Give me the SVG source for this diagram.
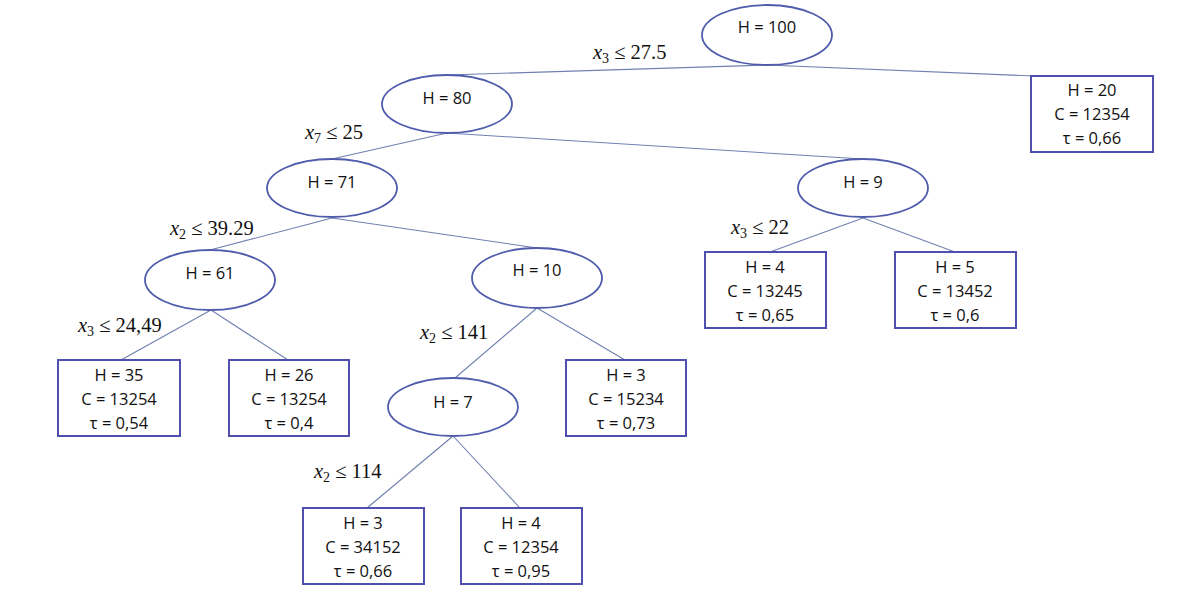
<svg xmlns="http://www.w3.org/2000/svg" width="1181" height="608" viewBox="0 0 1181 608">
<style>
.el{fill:#fff;stroke:#4f5bab;stroke-width:1.8}
.bx{fill:#fff;stroke:#4f4fb0;stroke-width:2}
.t{font-family:"Open Sans","Liberation Sans",sans-serif;font-size:16.5px;fill:#111;text-anchor:middle}
.m{font-family:"Liberation Serif","DejaVu Serif",serif;font-size:20.5px;fill:#111}
.m .v{font-style:italic}
.m .s{font-size:14px}
.c line{stroke:#7080b0;stroke-width:1.1}
</style>
<rect width="1181" height="608" fill="#fff"/>
<g class="c" id="connectors">
<line x1="767" y1="65" x2="447" y2="75"/>
<line x1="767" y1="65" x2="1033" y2="76"/>
<line x1="447" y1="133" x2="332" y2="159"/>
<line x1="447" y1="133" x2="863" y2="159"/>
<line x1="332" y1="218" x2="210" y2="250"/>
<line x1="332" y1="218" x2="537" y2="248"/>
<line x1="211" y1="310" x2="121" y2="360"/>
<line x1="211" y1="310" x2="288" y2="360"/>
<line x1="537" y1="308" x2="455" y2="378"/>
<line x1="537" y1="308" x2="625" y2="360"/>
<line x1="453" y1="436" x2="367" y2="508"/>
<line x1="453" y1="436" x2="520" y2="508"/>
<line x1="863" y1="218" x2="770" y2="252"/>
<line x1="863" y1="218" x2="955" y2="252"/>
</g>
<g id="labels">
<text class="m" x="593" y="59"><tspan class="v">x</tspan><tspan class="s" dy="4">3</tspan><tspan dy="-4"> ≤ 27.5</tspan></text>
<text class="m" x="305" y="139"><tspan class="v">x</tspan><tspan class="s" dy="4">7</tspan><tspan dy="-4"> ≤ 25</tspan></text>
<text class="m" x="170" y="235"><tspan class="v">x</tspan><tspan class="s" dy="4">2</tspan><tspan dy="-4"> ≤ 39.29</tspan></text>
<text class="m" x="78" y="332"><tspan class="v">x</tspan><tspan class="s" dy="4">3</tspan><tspan dy="-4"> ≤ 24,49</tspan></text>
<text class="m" x="420" y="339"><tspan class="v">x</tspan><tspan class="s" dy="4">2</tspan><tspan dy="-4"> ≤ 141</tspan></text>
<text class="m" x="314" y="478"><tspan class="v">x</tspan><tspan class="s" dy="4">2</tspan><tspan dy="-4"> ≤ 114</tspan></text>
<text class="m" x="731" y="234"><tspan class="v">x</tspan><tspan class="s" dy="4">3</tspan><tspan dy="-4"> ≤ 22</tspan></text>
</g>
<g id="n100"><ellipse class="el" cx="767" cy="35" rx="65" ry="30"/><text class="t" x="767" y="33">H = 100</text></g>
<g id="n80"><ellipse class="el" cx="447" cy="104" rx="65" ry="29"/><text class="t" x="447" y="104">H = 80</text></g>
<g id="n71"><ellipse class="el" cx="332" cy="188" rx="65" ry="29"/><text class="t" x="332" y="188">H = 71</text></g>
<g id="n9"><ellipse class="el" cx="863" cy="188" rx="65" ry="29"/><text class="t" x="863" y="188">H = 9</text></g>
<g id="n61"><ellipse class="el" cx="210" cy="280" rx="65" ry="30"/><text class="t" x="210" y="279">H = 61</text></g>
<g id="n10"><ellipse class="el" cx="537" cy="278" rx="65" ry="30"/><text class="t" x="537" y="276">H = 10</text></g>
<g id="n7"><ellipse class="el" cx="453" cy="407" rx="65" ry="29"/><text class="t" x="453" y="408">H = 7</text></g>
<g id="l20"><rect class="bx" x="1031" y="76" width="122" height="76"/><text class="t" x="1092" y="96">H = 20</text><text class="t" x="1092" y="120">C = 12354</text><text class="t" x="1092" y="144">τ = 0,66</text></g>
<g id="l4a"><rect class="bx" x="705" y="252" width="121" height="76"/><text class="t" x="765" y="273">H = 4</text><text class="t" x="765" y="297">C = 13245</text><text class="t" x="765" y="321">τ = 0,65</text></g>
<g id="l5"><rect class="bx" x="895" y="252" width="121" height="76"/><text class="t" x="955" y="273">H = 5</text><text class="t" x="955" y="297">C = 13452</text><text class="t" x="955" y="321">τ = 0,6</text></g>
<g id="l35"><rect class="bx" x="58" y="360" width="122" height="76"/><text class="t" x="119" y="381">H = 35</text><text class="t" x="119" y="405">C = 13254</text><text class="t" x="119" y="429">τ = 0,54</text></g>
<g id="l26"><rect class="bx" x="229" y="360" width="120" height="76"/><text class="t" x="289" y="381">H = 26</text><text class="t" x="289" y="405">C = 13254</text><text class="t" x="289" y="429">τ = 0,4</text></g>
<g id="l3a"><rect class="bx" x="566" y="360" width="120" height="76"/><text class="t" x="626" y="381">H = 3</text><text class="t" x="626" y="405">C = 15234</text><text class="t" x="626" y="429">τ = 0,73</text></g>
<g id="l3b"><rect class="bx" x="303" y="508" width="121" height="76"/><text class="t" x="363" y="529">H = 3</text><text class="t" x="363" y="553">C = 34152</text><text class="t" x="363" y="577">τ = 0,66</text></g>
<g id="l4b"><rect class="bx" x="461" y="508" width="121" height="76"/><text class="t" x="521" y="529">H = 4</text><text class="t" x="521" y="553">C = 12354</text><text class="t" x="521" y="577">τ = 0,95</text></g>
</svg>
